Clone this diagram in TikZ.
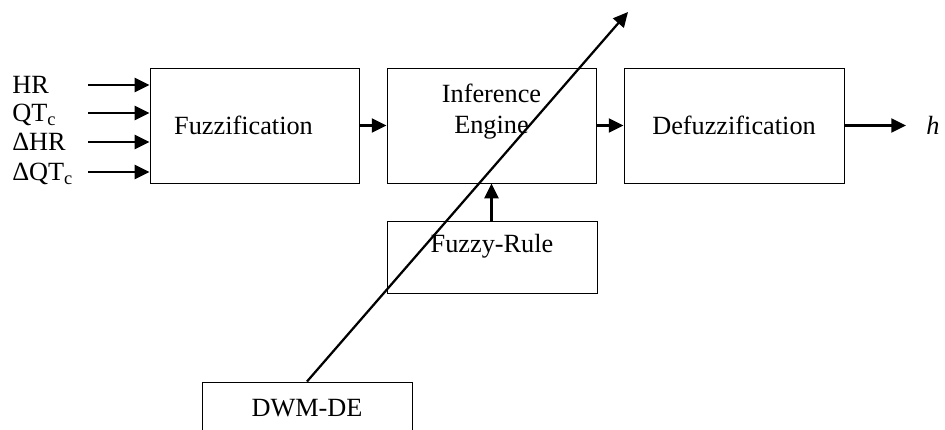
\documentclass[tikz,border=0pt]{standalone}
\usepackage{fontspec}
\setmainfont{Liberation Serif}
\usetikzlibrary{arrows.meta}
\usetikzlibrary{positioning}

\begin{document}
\begin{tikzpicture}[
	box/.style={draw, line width=0.7pt, minimum width=5.225cm, minimum height=2.875cm, inner sep=0pt},
	lbl/.style={font=\fontsize{18.7}{22}\selectfont, align=center, inner sep=0pt},
	arr/.style={line width=1.6pt, -{Triangle[length=10.5pt,width=10pt]}}
	]
	% frame of the picture
	\path[use as bounding box, clip] (0,0) rectangle (23.625,10.725);
	% draw blocks
	\node[box] (fuzz) at (6.3625,7.5875) {};
	\node[box] (inf) at (12.2875,7.5875) {};
	\node[box, lbl, minimum width=5.5cm] (defuzz) at (18.35,7.5875) {Defuzzification};
	\node[box, minimum width=5.25cm, minimum height=1.8cm] (rule) at (12.3,4.3) {};
	\node[box, minimum width=5.25cm, minimum height=1.8cm] (dwm) at (7.675,0.275) {};
	% texts of the blocks
	\node[lbl] (fuzz-txt) at ([xshift=-0.275cm]fuzz.center) {Fuzzification};
	\node[lbl] (inf-txt) at ([yshift=-1.11cm]inf.north) {Inference\\Engine};
	\node[lbl] (rule-txt) at ([yshift=-0.65cm]rule.north) {Fuzzy-Rule};
	\node[lbl] (dwm-txt) at ([yshift=-0.675cm]dwm.north) {DWM-DE};
	
	% inputs
	\foreach \name/\txt/\y in {hr/HR/8.6, qt/{QT\textsubscript{c}}/7.9, dhr/ΔHR/7.175, dqt/{ΔQT\textsubscript{c}}/6.425}{
		\node[lbl, anchor=base west] (in-\name) at (0.3,\y-0.22) {\txt};
		\coordinate (src-\name) at (2.2,\y);
		\draw[arr] (src-\name) -- (src-\name -| fuzz.west);
	}
	
	% arrows between blocks
	\draw[arr] (fuzz) -- (inf);
	\draw[arr] (inf) -- (defuzz);
	\draw[arr] (rule.north -| inf.south) -- (inf.south);
	
	% output
	\coordinate (out) at (22.65,7.5875);
	\draw[arr] (defuzz) -- (out);
	\node[lbl, right=0.5cm of out] (h) {\textit{h}};
	
	% line from DWM-DE
	\coordinate (tip) at (15.7,10.425);
	\draw[arr] (dwm.north) -- (tip);
\end{tikzpicture}
\end{document}
